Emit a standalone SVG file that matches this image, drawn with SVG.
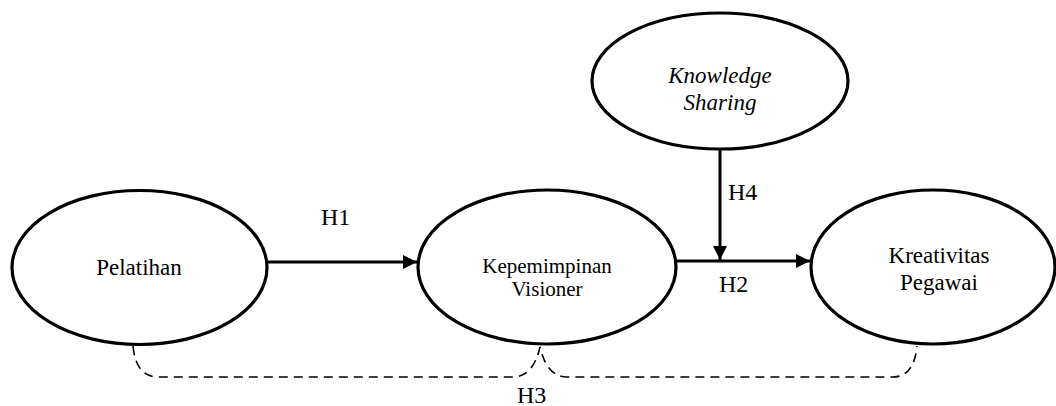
<svg xmlns="http://www.w3.org/2000/svg" width="1056" height="406" viewBox="0 0 1056 406">
<style>
.node{fill:#fff;stroke:#000;stroke-width:3.2}
.t{font-family:"Liberation Serif","Times New Roman",serif;fill:#000;text-anchor:middle}
.lbl{font-family:"Liberation Serif","Times New Roman",serif;fill:#000;font-size:24px}
.arr{stroke:#000;stroke-width:3;fill:none}
.dash{stroke:#000;stroke-width:1.6;fill:none;stroke-dasharray:9 6}
</style>
<defs>
<marker id="ah" markerWidth="14" markerHeight="14" viewBox="0 0 14 14" refX="14" refY="7" orient="auto" markerUnits="userSpaceOnUse">
<path d="M0,0 L14,7 L0,14 Z" fill="#000"/>
</marker>
</defs>
<g id="connectors">
<line class="arr" x1="267" y1="262" x2="417" y2="262" marker-end="url(#ah)"/>
<line class="arr" x1="676" y1="261" x2="810" y2="261" marker-end="url(#ah)"/>
<line class="arr" x1="720" y1="149" x2="720" y2="260" marker-end="url(#ah)"/>
<path class="dash" d="M133,346 Q136,377 158,377 L513,377 Q533,377 540,347 Q547,377 567,377 L893,377 Q914,377 917,346"/>
<text class="lbl" x="321" y="225">H1</text>
<text class="lbl" x="719" y="292">H2</text>
<text class="lbl" x="517" y="403">H3</text>
<text class="lbl" x="728" y="200">H4</text>
</g>
<g id="pelatihan">
<ellipse class="node" cx="139.5" cy="267.5" rx="127.5" ry="77"/>
<text class="t" x="139" y="275" font-size="23">Pelatihan</text>
</g>
<g id="kepemimpinan">
<ellipse class="node" cx="547" cy="267" rx="129" ry="77"/>
<text class="t" x="547" y="273" font-size="21">Kepemimpinan</text>
<text class="t" x="547" y="296" font-size="21">Visioner</text>
</g>
<g id="kreativitas">
<ellipse class="node" cx="933" cy="267" rx="122" ry="77"/>
<text class="t" x="939" y="263" font-size="23">Kreativitas</text>
<text class="t" x="939" y="290" font-size="23">Pegawai</text>
</g>
<g id="knowledge">
<ellipse class="node" cx="720" cy="81" rx="128" ry="68"/>
<text class="t" x="720" y="83" font-size="23" font-style="italic">Knowledge</text>
<text class="t" x="720" y="110" font-size="23" font-style="italic">Sharing</text>
</g>
</svg>
